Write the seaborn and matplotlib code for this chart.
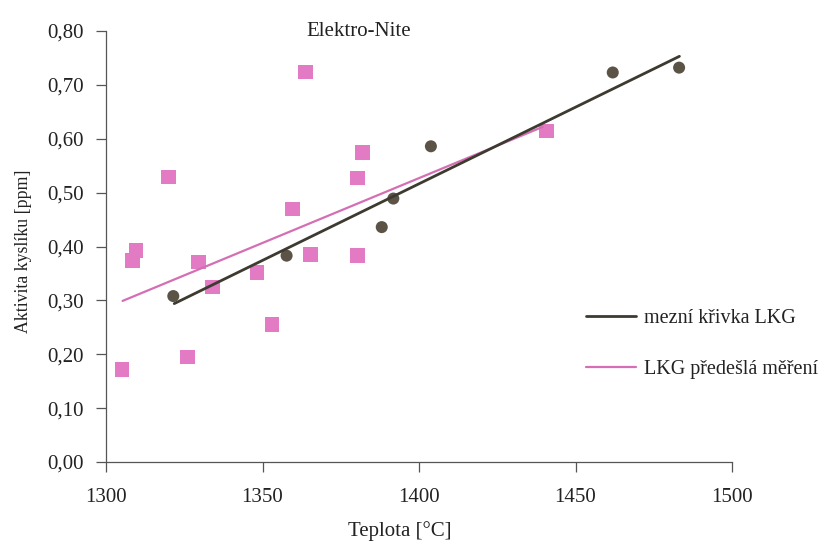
import matplotlib
matplotlib.use("Agg")
import matplotlib.pyplot as plt
import seaborn as sns
import pandas as pd

# --- data ---
ln_temp = [1321.5, 1357.7, 1388.1, 1391.8, 1403.8, 1461.9, 1483.1]
ln_act = [0.308, 0.383, 0.436, 0.489, 0.586, 0.723, 0.732]

prev_temp = [1305.1, 1308.4, 1309.6, 1319.9, 1326.0, 1329.5, 1334.0, 1348.3,
             1353.1, 1359.6, 1363.7, 1365.4, 1380.4, 1380.4, 1381.9, 1440.8]
prev_act = [0.172, 0.374, 0.393, 0.529, 0.195, 0.371, 0.325, 0.352,
            0.255, 0.470, 0.724, 0.385, 0.383, 0.527, 0.575, 0.614]

limit_line_x = [1321.8, 1483.2]
limit_line_y = [0.294, 0.753]
prev_line_x = [1305.3, 1439.5]
prev_line_y = [0.299, 0.622]

x_ticks = [1300, 1350, 1400, 1450, 1500]
y_ticks = [0.0, 0.1, 0.2, 0.3, 0.4, 0.5, 0.6, 0.7, 0.8]
y_tick_labels = ["0,00", "0,10", "0,20", "0,30", "0,40", "0,50", "0,60", "0,70", "0,80"]

title = "Elektro-Nite"
x_label = "Teplota [°C]"
y_label = "Aktivita kyslíku [ppm]"
legend_labels = ["mezní křivka LKG", "LKG předešlá měření"]

# --- drawing ---
sns.set_theme(style="ticks")
plt.rcParams["font.family"] = ["Liberation Serif", "DejaVu Serif"]

dark = "#3d3a30"
circle_col = "#5b5446"
pink = "#e27bc4"
pink_line = "#d46fb4"
txt = "#222222"
fs = 15

fig = plt.figure(figsize=(8.26, 5.41), dpi=100)
ax = fig.add_axes([106 / 826, 1 - 462 / 541, (732 - 106) / 826, (462 - 31) / 541])

df_ln = pd.DataFrame({"t": ln_temp, "a": ln_act})
df_prev = pd.DataFrame({"t": prev_temp, "a": prev_act})
df_l1 = pd.DataFrame({"t": limit_line_x, "a": limit_line_y})
df_l2 = pd.DataFrame({"t": prev_line_x, "a": prev_line_y})

sns.scatterplot(data=df_prev, x="t", y="a", marker="s", s=110, color=pink,
                edgecolor="none", ax=ax, zorder=3)
sns.lineplot(data=df_l2, x="t", y="a", color=pink_line, linewidth=1.6, ax=ax,
             zorder=4, label=legend_labels[1])
sns.scatterplot(data=df_ln, x="t", y="a", marker="o", s=75, color=circle_col,
                edgecolor="none", ax=ax, zorder=3)
sns.lineplot(data=df_l1, x="t", y="a", color=dark, linewidth=2.0, ax=ax,
             zorder=5, label=legend_labels[0])

ax.set_xlim(1300, 1500)
ax.set_ylim(0, 0.8)
ax.set_xticks(x_ticks)
ax.set_xticklabels([str(v) for v in x_ticks])
ax.set_yticks(y_ticks)
ax.set_yticklabels(y_tick_labels)
ax.tick_params(axis="both", labelsize=fs, length=7, width=0.9, color="#555555",
               labelcolor=txt)
ax.tick_params(axis="x", pad=12)
ax.tick_params(axis="y", pad=9)
sns.despine(ax=ax)
for sp in ["left", "bottom"]:
    ax.spines[sp].set_color("#555555")
    ax.spines[sp].set_linewidth(0.9)

ax.set_xlabel(x_label, fontsize=fs, color=txt, va="top")
ax.set_ylabel(y_label, fontsize=12.8, color=txt)
ax.xaxis.set_label_coords(0.47, -0.137)
ax.yaxis.set_label_coords(-0.118, 0.49)

ax.text(0.404, 1.0, title, transform=ax.transAxes, fontsize=fs,
        color=txt, ha="center", va="center")

handles, labels = ax.get_legend_handles_labels()
order = [labels.index(legend_labels[0]), labels.index(legend_labels[1])]
leg = fig.legend([handles[i] for i in order], [labels[i] for i in order],
                 loc="center left", bbox_to_anchor=(568 / 826, 1 - 344 / 541),
                 frameon=False, fontsize=14.5, handlelength=2.5,
                 labelspacing=1.62, handletextpad=0.35)
for t in leg.get_texts():
    t.set_color(txt)
if ax.get_legend():
    ax.get_legend().remove()

fig.savefig("out.png", dpi=100)
